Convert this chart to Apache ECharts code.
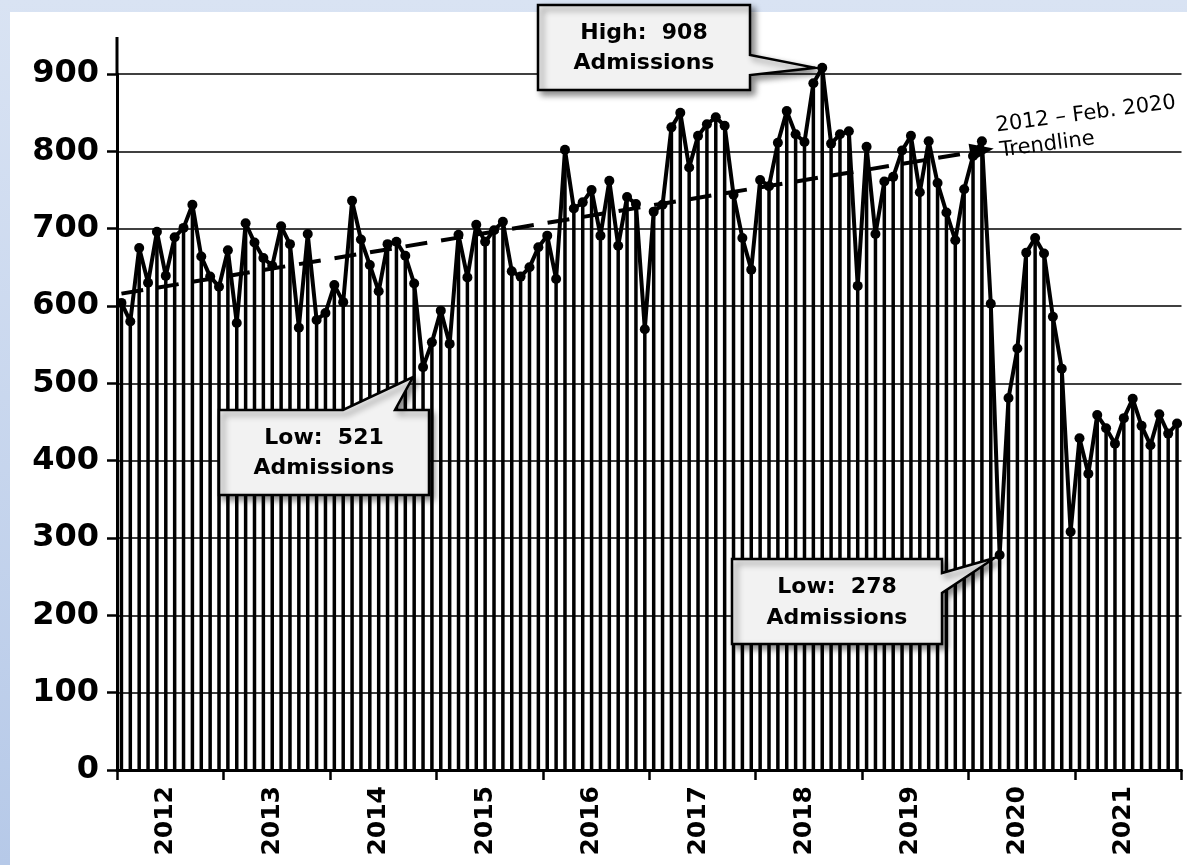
<!DOCTYPE html>
<html><head><meta charset="utf-8">
<script src="https://cdn.jsdelivr.net/npm/echarts@6/dist/echarts.min.js"></script>
<style>html,body{margin:0;padding:0;background:#fff;}#chart{width:1187px;height:865px;}</style>
</head><body><div id="chart"></div>
<script>
const years = ['2012','2013','2014','2015','2016','2017','2018','2019','2020','2021'];
const months = ['01','02','03','04','05','06','07','08','09','10','11','12'];

const admissions2012 = [604, 580, 675, 630, 696, 639, 689, 701, 731, 664, 638, 625];
const admissions2013 = [672, 578, 707, 682, 662, 652, 703, 680, 572, 693, 582, 591];
const admissions2014 = [627, 605, 736, 686, 653, 619, 680, 683, 665, 629, 521, 553];
const admissions2015 = [594, 551, 692, 637, 705, 683, 698, 709, 645, 638, 650, 676];
const admissions2016 = [691, 635, 802, 726, 734, 750, 691, 762, 678, 741, 732, 570];
const admissions2017 = [722, 731, 831, 850, 779, 820, 835, 844, 833, 744, 688, 647];
const admissions2018 = [763, 755, 811, 852, 822, 812, 888, 908, 810, 822, 826, 626];
const admissions2019 = [806, 693, 761, 767, 801, 820, 747, 813, 759, 721, 685, 751];
const admissions2020 = [794, 813, 603, 278, 481, 545, 669, 688, 668, 586, 519, 308];
const admissions2021 = [429, 383, 459, 442, 422, 455, 480, 445, 420, 460, 435, 448];

const trendStart = ['2012-01', 616];
const trendEnd = ['2020-02', 801];

const yMin = 0, yMax = 900, yInterval = 100;

const callouts = [
  { lines: ['High:  908', 'Admissions'], point: ['2018-08', 908] },
  { lines: ['Low:  521', 'Admissions'], point: ['2014-11', 521] },
  { lines: ['Low:  278', 'Admissions'], point: ['2020-04', 278] }
];

const categories = [];
years.forEach(y => months.forEach(m => categories.push(y + '-' + m)));
const admissions = [].concat(admissions2012, admissions2013, admissions2014, admissions2015,
  admissions2016, admissions2017, admissions2018, admissions2019, admissions2020, admissions2021);

const chart = echarts.init(document.getElementById('chart'));
const option = {
  animation: false,
  backgroundColor: { type: 'linear', x: 0, y: 0, x2: 0, y2: 1,
    colorStops: [{ offset: 0, color: '#d9e3f3' }, { offset: 1, color: '#b6c9e8' }] },
  grid: { left: 117, right: 5.5, top: 74, bottom: 95 },
  xAxis: {
    type: 'category', data: categories, boundaryGap: true,
    axisLine: { lineStyle: { color: '#000', width: 3 } },
    axisTick: { show: true, interval: (i) => i % 12 === 0, length: 10, lineStyle: { color: '#000', width: 2.5 } },
    axisLabel: { interval: (i) => i % 12 === 5, rotate: 90, formatter: v => v.slice(0, 4),
      fontFamily: 'DejaVu Sans', fontWeight: 'bold', fontSize: 25, color: '#000', margin: 16 },
    splitLine: { show: false }
  },
  yAxis: {
    type: 'value', min: yMin, max: yMax, interval: yInterval,
    axisLine: { show: true, lineStyle: { color: '#000', width: 3 } },
    axisTick: { show: true, length: 10, lineStyle: { color: '#000', width: 2.5 } },
    axisLabel: { fontFamily: 'DejaVu Sans', fontWeight: 'bold', fontSize: 32, color: '#000', margin: 18 },
    splitLine: { lineStyle: { color: '#000', width: 1.5 } }
  },
  series: [
    { type: 'bar', data: admissions, barWidth: 3.5, itemStyle: { color: '#000' }, clip: false, silent: true, z: 2 },
    { type: 'line', data: admissions, symbol: 'circle', symbolSize: 10, showAllSymbol: true, clip: false, z: 4,
      lineStyle: { color: '#000', width: 4 }, itemStyle: { color: '#000' },
      markLine: {
        silent: true, symbol: ['none', 'triangle'], symbolSize: [18, 24], label: { show: false },
        lineStyle: { color: '#000', width: 4, type: [22, 14] },
        data: [[{ coord: trendStart }, { coord: trendEnd }]]
      }
    }
  ]
};
chart.setOption(option);

const graphics = [
  { type: 'rect', shape: { x: 10, y: 12, width: 1177, height: 853 }, style: { fill: '#fff' }, z: -100, silent: true },
  { type: 'line', shape: { x1: 117, y1: 37, x2: 117, y2: 75 }, style: { stroke: '#000', lineWidth: 3 }, z: 10 },
  { type: 'text', x: 996, y: 126, rotation: 0.13, z: 50,
    style: { text: '2012 – Feb. 2020', font: '21px "DejaVu Sans"', fill: '#000', textAlign: 'left', align: 'left', textVerticalAlign: 'middle', verticalAlign: 'middle' } },
  { type: 'text', x: 1000, y: 151, rotation: 0.13, z: 50,
    style: { text: 'Trendline', font: '21px "DejaVu Sans"', fill: '#000', textAlign: 'left', align: 'left', textVerticalAlign: 'middle', verticalAlign: 'middle' } }
];

const boxes = [
  { x0: 538, y0: 5, x1: 750, y1: 90, side: 'right', a: 55, b: 75, off: [-7, 0], ty: [33, 63] },
  { x0: 219, y0: 410, x1: 429, y1: 495, side: 'top', a: 343, b: 395, off: [-10, 10], ty: [438, 468] },
  { x0: 732, y0: 559, x1: 942, y1: 644, side: 'right', a: 573, b: 593, off: [-5, 3], ty: [587, 618] }
];

callouts.forEach((c, k) => {
  const bx = boxes[k];
  const p = chart.convertToPixel({ seriesIndex: 1 }, c.point);
  const tip = [p[0] + bx.off[0], p[1] + bx.off[1]];
  let pts;
  if (bx.side === 'right') {
    pts = [[bx.x0, bx.y0], [bx.x1, bx.y0], [bx.x1, bx.a], tip, [bx.x1, bx.b], [bx.x1, bx.y1], [bx.x0, bx.y1]];
  } else {
    pts = [[bx.x0, bx.y0], [bx.a, bx.y0], tip, [bx.b, bx.y0], [bx.x1, bx.y0], [bx.x1, bx.y1], [bx.x0, bx.y1]];
  }
  graphics.push({ type: 'polygon', shape: { points: pts }, z: 60,
    style: { fill: '#f2f2f2', stroke: '#000', lineWidth: 2.5, lineJoin: 'miter',
      shadowBlur: 6, shadowOffsetX: 4, shadowOffsetY: 4, shadowColor: 'rgba(0,0,0,0.45)' } });
  const cx = (bx.x0 + bx.x1) / 2;
  c.lines.forEach((t, j) => {
    graphics.push({ type: 'text', x: cx, y: bx.ty[j], z: 61,
      style: { text: t, font: 'bold 22px "DejaVu Sans"', fill: '#000', textAlign: 'center', align: 'center', textVerticalAlign: 'middle', verticalAlign: 'middle' } });
  });
});

chart.setOption({ graphic: graphics });
</script>
</body></html>
